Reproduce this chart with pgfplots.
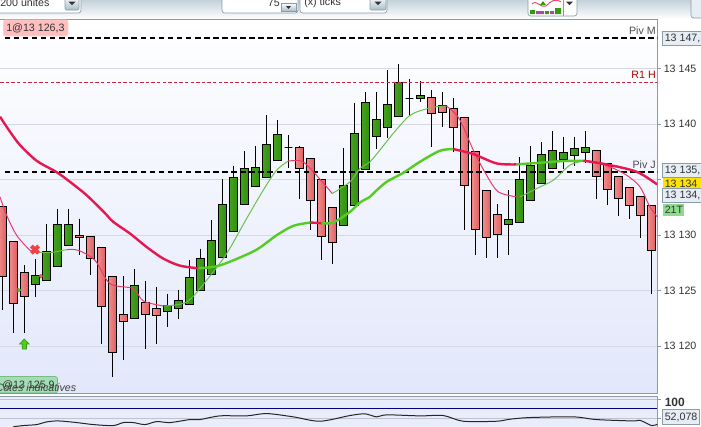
\documentclass[border=0pt]{standalone}
\usepackage{fontspec}
\setmainfont{Liberation Sans}
\usepackage{pgfplots}
\pgfplotsset{compat=1.18}
\definecolor{cgr}{HTML}{339A0E}
\definecolor{crd}{HTML}{E86C70}
\definecolor{lnred}{HTML}{E8174F}
\definecolor{lngr}{HTML}{55CC22}
\definecolor{thgr}{HTML}{6CC050}
\definecolor{gridc}{HTML}{D5D9E6}
\definecolor{frame}{HTML}{8C9CA6}
\definecolor{txt}{HTML}{333333}
\definecolor{boxf}{HTML}{E6EDF5}
\definecolor{B4}{HTML}{C4D2DB}
\definecolor{B5}{HTML}{A9BECB}
\definecolor{E2}{HTML}{E2E8FB}
\definecolor{EB}{HTML}{E8EDFB}
\definecolor{HTMLred}{HTML}{C8283C}
\definecolor{rbl}{HTML}{F08C8C}
\definecolor{rbr}{HTML}{DF5F62}
\definecolor{gbl}{HTML}{46A01E}
\definecolor{gbr}{HTML}{2F9010}
\tikzset{rb/.style={left color=rbl,right color=rbr},gb/.style={left color=gbl,right color=gbr},bb/.style={fill=black}}
\pgfdeclareplotmark{uparrow}{%
  \pgfpathmoveto{\pgfqpoint{-1.6pt}{-3.8pt}}
  \pgfpathlineto{\pgfqpoint{1.6pt}{-3.8pt}}
  \pgfpathlineto{\pgfqpoint{1.6pt}{0pt}}
  \pgfpathlineto{\pgfqpoint{3.6pt}{0pt}}
  \pgfpathlineto{\pgfqpoint{0pt}{3.8pt}}
  \pgfpathlineto{\pgfqpoint{-3.6pt}{0pt}}
  \pgfpathlineto{\pgfqpoint{-1.6pt}{0pt}}
  \pgfpathclose
  \pgfusepathqfillstroke}
% index, open, high, low, close, style
\newcommand\candle[6]{%
  \pgfmathsetmacro\xl{#1-0.36}\pgfmathsetmacro\xr{#1+0.36}%
  \addplot[black,line width=.75pt] coordinates {(#1,#3)(#1,#4)};
  \addplot[draw=black,line width=.75pt,#6] coordinates {(\xl,#2)(\xr,#2)(\xr,#5)(\xl,#5)} -- cycle;
}
\begin{document}
\begin{tikzpicture}[x=0.75pt,y=-0.75pt,font=\fontsize{8pt}{10pt}\selectfont]
\useasboundingbox (0,0) rectangle (701,426);
\clip (0,0) rectangle (701,426);
% toolbar
\shade[top color=B4,bottom color=white] (0,0) rectangle (701,19);
\draw[frame,line width=.5pt,rounded corners=2pt,fill=white] (-5,-5) rectangle (81,13);
\shade[draw=frame,top color=white,bottom color=B5,rounded corners=1pt] (65,-4) rectangle (79,10);
\fill[black!80] (68.5,1.5)--(75.5,1.5)--(72,5)--cycle;
\node[anchor=west,inner sep=0pt,text=txt] at (0,3) {200 unites};
\draw[frame,line width=.5pt,rounded corners=2pt,fill=white] (222,-5) rectangle (298,13);
\node[anchor=east,inner sep=0pt,text=txt] at (280,3) {75};
\shade[draw=frame,top color=white,bottom color=B5] (281,3) rectangle (296,11);
\fill[black!80] (286,6)--(291,6)--(288.5,9)--cycle;
\draw[frame,line width=.5pt,rounded corners=2pt,fill=white] (300,-5) rectangle (387,13);
\node[anchor=west,inner sep=0pt,text=txt] at (304,3) {(x) ticks};
\shade[draw=frame,top color=white,bottom color=B5,rounded corners=1pt] (370,-4) rectangle (386,10);
\fill[black!80] (374.5,1.5)--(381.5,1.5)--(378,5)--cycle;
\draw[frame,line width=.5pt,rounded corners=2pt,fill=white] (528,-5) rectangle (577,16);
\draw[frame,line width=.5pt] (563,-5)--(563,16);
\fill[cgr] (530,10) rectangle (535,14) (545,11) rectangle (549,14) (555,8) rectangle (561,14);
\fill[violet!70] (536,11) rectangle (544,14) (550,11) rectangle (554,14);
\draw[lnred!80,line width=.7pt] (532,4) .. controls (537,-1) and (541,9) .. (546,6) .. controls (551,1) and (555,-2) .. (561,2);
\fill[cgr] (540,5)--(543,1)--(546,5)--cycle;
\fill[black!80] (566,1.5)--(573,1.5)--(569.5,5)--cycle;
\draw[frame,line width=.5pt,rounded corners=2pt,fill=boxf] (691,-5) rectangle (710,18);
% main axis
\begin{axis}[
  at={(-1.5pt,-294.975pt)},anchor=south west,
  scale only axis,width=494.625pt,height=280.35pt,
  xmin=-0.391,xmax=59.53,ymin=13115.77,ymax=13149.41,
  axis background/.style={top color=white,bottom color=E2},
  axis line style={frame,line width=.75pt},
  xtick=\empty,
  yticklabel pos=right,
  scaled y ticks=false,
  ytick={13120,13125,13130,13135,13140,13145},
  yticklabels={13 120,13 125,13 130,13 135,13 140,13 145},
  y tick label style={text=txt,font=\fontsize{8pt}{10pt}\selectfont,inner xsep=1.5pt},
  tick style={frame,line width=.6pt},
  tick align=outside,
  ytick pos=right,
  major tick length=3pt,
  ymajorgrids,
  y grid style={gridc,line width=.6pt},
]
\candle{0}{13132.61}{13132.61}{13123.24}{13126.24}{rb}
\candle{1}{13129.40}{13129.40}{13121.20}{13123.84}{rb}
\candle{2}{13126.60}{13127.29}{13121.20}{13124.47}{rb}
\candle{3}{13125.55}{13127.83}{13124.44}{13126.33}{gb}
\candle{4}{13125.91}{13130.99}{13125.91}{13128.53}{gb}
\candle{5}{13127.17}{13132.34}{13127.17}{13130.96}{gb}
\candle{6}{13129.07}{13132.34}{13129.07}{13130.96}{gb}
\candle{7}{13130.00}{13131.50}{13128.25}{13129.79}{rb}
\candle{8}{13129.88}{13129.88}{13126.42}{13127.86}{rb}
\candle{9}{13128.89}{13128.89}{13120.21}{13123.57}{rb}
\candle{10}{13126.24}{13126.24}{13117.23}{13119.43}{rb}
\candle{11}{13122.85}{13126.30}{13118.77}{13122.22}{rb}
\candle{12}{13122.49}{13126.99}{13122.49}{13125.43}{gb}
\candle{13}{13123.93}{13125.85}{13119.76}{13122.85}{rb}
\candle{14}{13123.39}{13125.31}{13120.21}{13122.76}{rb}
\candle{15}{13123.12}{13124.74}{13121.74}{13123.63}{gb}
\candle{16}{13123.39}{13125.04}{13122.46}{13124.11}{gb}
\candle{17}{13123.75}{13127.80}{13123.75}{13126.18}{gb}
\candle{18}{13125.01}{13128.79}{13125.01}{13127.89}{gb}
\candle{19}{13126.45}{13131.35}{13126.45}{13129.52}{gb}
\candle{20}{13127.95}{13135.04}{13127.95}{13132.76}{gb}
\candle{21}{13130.33}{13136.27}{13130.33}{13135.19}{gb}
\candle{22}{13132.76}{13137.56}{13132.76}{13136.00}{gb}
\candle{23}{13134.38}{13138.05}{13134.38}{13136.10}{gb}
\candle{24}{13135.19}{13140.81}{13135.19}{13138.17}{gb}
\candle{25}{13136.73}{13140.36}{13136.73}{13139.07}{gb}
\candle{26}{13137.93}{13139.01}{13136.01}{13137.93}{bb}
\candle{27}{13137.93}{13138.02}{13133.24}{13136.01}{rb}
\candle{28}{13136.88}{13136.88}{13130.48}{13133.12}{rb}
\candle{29}{13135.01}{13135.01}{13127.78}{13129.88}{rb}
\candle{30}{13132.49}{13132.49}{13127.45}{13129.34}{rb}
\candle{31}{13130.90}{13137.81}{13130.90}{13134.47}{gb}
\candle{32}{13132.67}{13141.86}{13132.67}{13139.16}{gb}
\candle{33}{13135.95}{13142.88}{13135.95}{13141.95}{gb}
\candle{34}{13138.89}{13142.85}{13137.75}{13140.42}{gb}
\candle{35}{13139.70}{13144.86}{13138.77}{13141.77}{gb}
\candle{36}{13140.69}{13145.37}{13140.69}{13143.75}{gb}
\candle{37}{13142.28}{13144.02}{13140.75}{13142.28}{bb}
\candle{38}{13142.28}{13143.87}{13142.01}{13142.58}{gb}
\candle{39}{13142.40}{13143.06}{13137.96}{13140.93}{rb}
\candle{40}{13141.68}{13142.85}{13139.76}{13141.02}{rb}
\candle{41}{13141.41}{13142.31}{13137.51}{13139.70}{rb}
\candle{42}{13140.60}{13140.60}{13130.48}{13134.47}{rb}
\candle{43}{13137.54}{13137.54}{13128.23}{13130.51}{rb}
\candle{44}{13134.02}{13134.02}{13127.96}{13129.76}{rb}
\candle{45}{13131.86}{13132.79}{13127.96}{13130.03}{rb}
\candle{46}{13130.96}{13134.05}{13128.23}{13131.41}{gb}
\candle{47}{13131.11}{13137.00}{13131.11}{13135.01}{gb}
\candle{48}{13133.12}{13138.02}{13133.12}{13136.28}{gb}
\candle{49}{13134.65}{13138.35}{13134.65}{13137.27}{gb}
\candle{50}{13136.01}{13139.37}{13136.01}{13137.63}{gb}
\candle{51}{13136.79}{13138.86}{13135.95}{13137.45}{gb}
\candle{52}{13137.18}{13138.80}{13136.25}{13137.81}{gb}
\candle{53}{13137.45}{13139.37}{13136.46}{13137.90}{gb}
\candle{54}{13137.63}{13137.63}{13133.24}{13135.29}{rb}
\candle{55}{13136.46}{13136.46}{13132.70}{13134.11}{rb}
\candle{56}{13135.29}{13135.29}{13131.77}{13133.30}{rb}
\candle{57}{13134.29}{13134.29}{13131.47}{13132.67}{rb}
\candle{58}{13133.48}{13133.48}{13129.76}{13131.77}{rb}
\candle{59}{13132.67}{13132.67}{13124.71}{13128.62}{rb}
% pivots
\addplot[black,line width=1.5pt,dash pattern=on 4.2pt off 2.6pt] coordinates {(0.2,13147.78)(59.53,13147.78)};
\addplot[black,line width=1.5pt,dash pattern=on 4.2pt off 2.6pt] coordinates {(0.2,13135.71)(59.53,13135.71)};
\addplot[HTMLred,line width=.6pt,dash pattern=on 2.6pt off 1.6pt] coordinates {(-0.2,13143.75)(59.53,13143.75)};
% thin average
\addplot[lnred!85,line width=.75pt,smooth] coordinates {(-0.21,13133.45)(0.39,13131.80)(1.30,13130.00)(2.51,13128.65)(2.97,13128.50)};
\addplot[thgr,line width=.75pt,smooth] coordinates {(2.97,13128.50)(4.33,13128.43)(5.84,13128.70)};
\addplot[lnred!85,line width=.75pt,smooth] coordinates {(5.84,13128.70)(6.90,13128.64)(8.42,13127.74)(9.78,13125.64)(11.90,13125.19)(12.81,13124.08)(14.63,13123.63)};
\addplot[thgr,line width=.75pt,smooth] coordinates {(14.63,13123.63)(16.75,13123.99)(18.56,13125.94)(20.38,13128.34)(22.20,13131.50)(23.71,13134.05)(24.92,13135.85)(25.98,13136.67)};
\addplot[lnred!85,line width=.75pt,smooth] coordinates {(25.98,13136.67)(27.20,13136.67)(28.26,13135.71)(29.98,13133.75)};
\addplot[thgr,line width=.75pt,smooth] coordinates {(29.98,13133.75)(31.59,13134.80)(32.50,13136.00)(33.40,13136.60)(34.31,13137.66)(35.52,13139.16)(36.89,13140.66)(37.95,13141.20)(39.46,13141.56)(40.37,13141.62)};
\addplot[lnred!85,line width=.75pt,smooth] coordinates {(40.37,13141.62)(41.28,13140.81)(41.88,13139.76)(42.79,13137.66)(44.00,13135.40)(45.06,13133.90)(46.73,13133.45)};
\addplot[thgr,line width=.75pt,smooth] coordinates {(47.03,13133.45)(48.55,13134.20)(50.06,13134.95)(51.58,13136.31)(52.79,13136.67)};
\addplot[lnred!85,line width=.75pt,smooth] coordinates {(52.79,13136.67)(53.39,13136.67)(55.21,13136.15)(56.72,13135.40)(57.93,13134.36)(58.84,13132.55)(59.51,13131.65)};
% thick average
\addplot[lnred,line width=1.8pt,smooth] coordinates {(-0.21,13140.66)(0.70,13139.31)(1.61,13138.11)(3.12,13136.70)(4.94,13135.67)(6.15,13134.80)(7.66,13133.60)(9.33,13131.98)(10.08,13131.20)(11.60,13130.15)(13.11,13128.94)(14.63,13127.89)(16.14,13127.26)(17.81,13127.02)};
\addplot[lngr,line width=1.8pt,smooth] coordinates {(17.81,13127.02)(19.47,13127.20)(20.99,13127.74)(23.11,13128.70)(24.92,13129.99)(26.44,13130.84)(28.01,13131.14)};
\addplot[lnred,line width=1.8pt] coordinates {(28.01,13131.14)(29.01,13131.08)};
\addplot[lngr,line width=1.8pt,smooth] coordinates {(29.01,13131.08)(30.07,13131.14)(31.59,13132.10)(32.50,13132.94)(33.40,13133.45)(33.86,13133.90)(34.92,13134.80)(36.43,13135.61)(37.95,13136.61)(39.76,13137.60)(40.97,13137.75)};
\addplot[lnred,line width=1.8pt,smooth] coordinates {(40.97,13137.75)(42.79,13137.30)(44.91,13136.46)(46.73,13136.37)};
\addplot[lngr,line width=1.8pt,smooth] coordinates {(46.73,13136.37)(48.85,13136.52)(50.97,13136.67)(52.79,13136.70)};
\addplot[lnred,line width=1.8pt,smooth] coordinates {(52.79,13136.70)(54.90,13136.37)(57.63,13135.71)(59.51,13134.56)};
% signals
\addplot[only marks,mark=x,mark size=3.8pt,mark options={draw=crd!60!red,line width=3pt}] coordinates {(2.97,13128.70)};
\addplot[only marks,mark=*,mark size=1.4pt,mark options={draw=crd!80!black,fill=crd}] coordinates {(3.50,13126.30)};
\addplot[only marks,mark=triangle*,mark size=1.8pt,mark options={draw=lngr!80!black,fill=lngr,rotate=-90}] coordinates {(1.51,13125.05)};
\addplot[only marks,mark=uparrow,mark options={draw=cgr,fill=lngr,line width=.5pt}] coordinates {(2.00,13120.20)};
\end{axis}
% lower axis
\begin{axis}[
  at={(-1.5pt,-322.5pt)},anchor=south west,
  scale only axis,width=494.625pt,height=24.98pt,
  xmin=-0.391,xmax=59.53,ymin=19.3,ymax=107,
  axis background/.style={fill=EB},
  axis line style={frame,line width=.75pt},
  xtick=\empty,
  ytick pos=right,
  tick align=outside,
  ytick={50,100},yticklabels={},
  scaled y ticks=false,
  tick style={frame,line width=.6pt},
  major tick length=3pt,
  ymajorgrids,
  y grid style={gridc!90!black,line width=.6pt},
]
\addplot[blue!50!black,line width=.75pt] coordinates {(-0.391,75.4)(59.53,75.4)};
\addplot[black!85,line width=.75pt,smooth] coordinates {(1.0,28)(1.91,31.0)(3.12,33.6)(4.03,40.6)(5.09,43.2)(6.75,38.9)(8.27,33.6)(10.08,31.0)(11.0,38.9)(11.9,38.9)(12.96,33.6)(14.02,41.5)(15.23,38.9)(17.05,46.8)(17.96,46.8)(19.77,56.5)(22.2,56.5)(24.0,62.6)(26.44,53.9)(28.86,42.4)(31.59,57.4)(32.95,61.8)(34.01,53.9)(34.92,59.2)(37.95,56.5)(40.07,57.4)(41.88,42.4)(44.91,42.4)(46.12,47.7)(47.94,52.1)(51.88,53.9)(53.99,46.8)(57.32,43.2)(57.93,45.0)(58.99,31.0)(59.51,34.5)};
\end{axis}
% price-panel texts
\draw[fill=red!25,draw=red!20,rounded corners=1.5pt] (3.5,20) rectangle (68,36);
\node[anchor=west,inner sep=0pt,text=txt] at (6,28) {1@13 126,3};
\node[anchor=east,inner sep=0pt,text=black!70] at (656,31) {Piv M};
\node[anchor=east,inner sep=0pt,text=red!70!black] at (656,75) {R1 H};
\node[anchor=east,inner sep=0pt,text=black!70] at (656,165) {Piv J};
\fill[green!75!black,opacity=.28,rounded corners=1.5pt] (-3,376.5) rectangle (57.5,393);
\draw[green!50!black,opacity=.4,line width=.4pt,rounded corners=1.5pt] (-3,376.5) rectangle (57.5,393);
\node[anchor=west,inner sep=0pt,text=txt] at (2,385) {@13 125,9};
\node[anchor=east,inner sep=0pt,text=black!75,font=\fontsize{8pt}{10pt}\selectfont\itshape] at (76.5,387.5) {Cotes indicatives};
% right price boxes
\draw[frame,line width=.5pt,fill=boxf] (662.5,31) rectangle (710,45);
\node[anchor=west,inner sep=0pt,text=txt] at (664.5,38.5) {13 147,};
\draw[frame,line width=.5pt,fill=boxf] (662.5,163) rectangle (710,177);
\node[anchor=west,inner sep=0pt,text=txt] at (664.5,170.5) {13 135,};
\fill[yellow!85!orange] (662.5,178) rectangle (710,188.5);
\node[anchor=west,inner sep=0pt,text=txt] at (664.5,184) {13 134};
\draw[frame,line width=.5pt,fill=boxf] (662.5,188.5) rectangle (710,202);
\node[anchor=west,inner sep=0pt,text=txt] at (664.5,195.5) {13 134,};
\fill[green!70!black,opacity=.45] (662.5,203.5) rectangle (683.5,216);
\node[anchor=west,inner sep=0pt,text=txt] at (664.5,209.5) {21T};
\node[anchor=west,inner sep=0pt,text=txt,font=\fontsize{9pt}{10pt}\selectfont\bfseries] at (664.5,402.5) {100};
\draw[frame,line width=.5pt,fill=boxf] (662.5,409.5) rectangle (699,424.5);
\node[anchor=west,inner sep=0pt,text=txt] at (664.5,417) {52,078};
\end{tikzpicture}
\end{document}
